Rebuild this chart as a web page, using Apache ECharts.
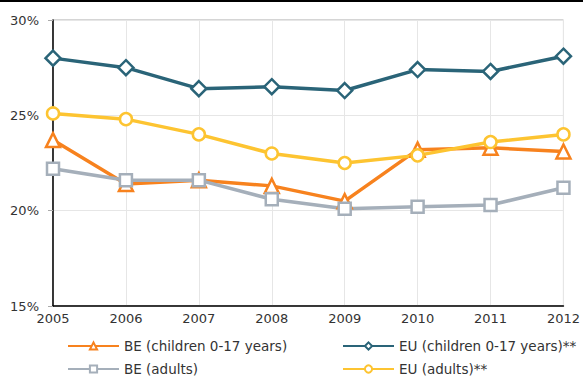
<!DOCTYPE html>
<html>
<head>
<meta charset="utf-8">
<script src="https://cdn.jsdelivr.net/npm/echarts@6/dist/echarts.min.js"></script>
<style>
  html, body { margin: 0; padding: 0; background: #fff; }
  #chart { width: 583px; height: 377px; }
</style>
</head>
<body>
<div id="chart"></div>
<script>
// Poverty risk rates (%) by year
const years = ['2005', '2006', '2007', '2008', '2009', '2010', '2011', '2012'];
const beChildren = [23.7, 21.4, 21.6, 21.3, 20.5, 23.2, 23.3, 23.1];
const beAdults = [22.2, 21.6, 21.6, 20.6, 20.1, 20.2, 20.3, 21.2];
const euChildren = [28.0, 27.5, 26.4, 26.5, 26.3, 27.4, 27.3, 28.1];
const euAdults = [25.1, 24.8, 24.0, 23.0, 22.5, 22.9, 23.6, 24.0];

const FONT = 'DejaVu Sans';
const TEXT = '#333';

function line(name, data, color, symbol, size) {
  return {
    name: name,
    type: 'line',
    data: data,
    symbol: symbol,
    symbolSize: size,
    showAllSymbol: true,
    lineStyle: { color: color, width: 3.5 },
    itemStyle: { color: '#fff', borderColor: color, borderWidth: 2.5 },
    emphasis: { disabled: true },
    z: 3
  };
}

function legendItem(name, left, top) {
  return {
    left: left, top: top, orient: 'horizontal', itemWidth: 51, itemHeight: 9,
    padding: 0,
    textStyle: { fontFamily: FONT, fontSize: 13.5, color: TEXT },
    data: [name]
  };
}

const chart = echarts.init(document.getElementById('chart'), null, { renderer: 'svg' });
chart.setOption({
  animation: false,
  backgroundColor: '#fff',
  graphic: [
    { type: 'rect', left: 0, top: 0, shape: { width: 583, height: 2 }, style: { fill: '#000' } }
  ],
  grid: { left: 53, right: 19, top: 20, bottom: 71, show: true, borderColor: '#aaa', borderWidth: 1 },
  legend: [
    legendItem('BE (children 0-17 years)', 67, 339),
    legendItem('BE (adults)', 67, 362),
    legendItem('EU (children 0-17 years)**', 342, 339),
    legendItem('EU (adults)**', 342, 362)
  ],
  xAxis: {
    type: 'category',
    data: years,
    boundaryGap: false,
    axisLine: { lineStyle: { color: '#000', width: 1.5 } },
    axisTick: { show: false },
    axisLabel: { color: TEXT, fontSize: 13, fontFamily: FONT, margin: 6 },
    splitLine: { show: true, lineStyle: { color: '#e6e6e6' } }
  },
  yAxis: {
    type: 'value',
    min: 15, max: 30, interval: 5,
    axisLine: { show: true, lineStyle: { color: '#000', width: 1.5 } },
    axisTick: { show: true, length: 5, lineStyle: { color: '#aaa' } },
    axisLabel: { color: TEXT, fontSize: 13, fontFamily: FONT, margin: 14, formatter: '{value}%' },
    splitLine: { show: true, lineStyle: { color: '#e6e6e6' } }
  },
  series: [
    line('BE (children 0-17 years)', beChildren, '#f7821e', 'triangle', 14),
    line('BE (adults)', beAdults, '#a5afba', 'rect', 12),
    line('EU (children 0-17 years)**', euChildren, '#2a6478', 'diamond', 15),
    line('EU (adults)**', euAdults, '#fdc431', 'circle', 12)
  ]
});
</script>
</body>
</html>
